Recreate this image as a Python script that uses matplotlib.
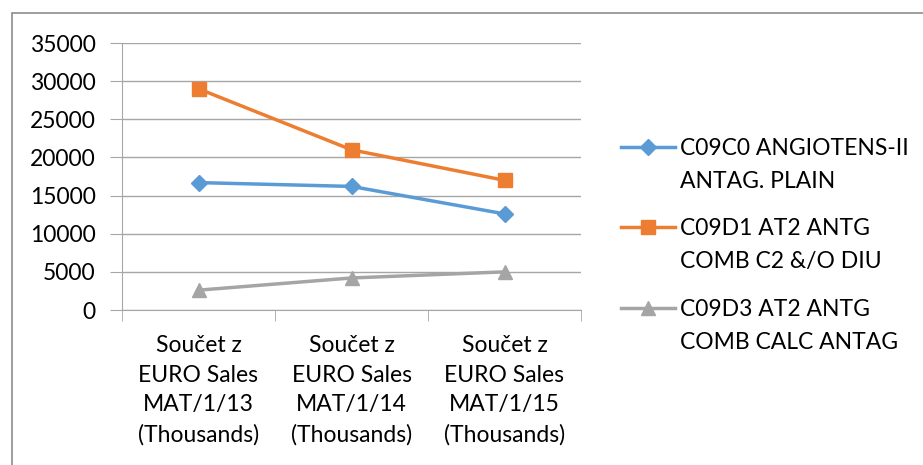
import matplotlib.pyplot as plt
from matplotlib.lines import Line2D
from matplotlib.patches import Rectangle

plt.rcParams['font.family'] = ['Lato', 'DejaVu Sans']

categories = [
    "Součet z\nEURO Sales\nMAT/1/13\n(Thousands)",
    "Součet z\nEURO Sales\nMAT/1/14\n(Thousands)",
    "Součet z\nEURO Sales\nMAT/1/15\n(Thousands)",
]
angiotens = [16700, 16200, 12600]
comb_diu = [29000, 21000, 17000]
comb_calc = [2600, 4200, 5000]

series_names = [
    "C09C0 ANGIOTENS-II\nANTAG. PLAIN",
    "C09D1 AT2 ANTG\nCOMB C2 &/O DIU",
    "C09D3 AT2 ANTG\nCOMB CALC ANTAG",
]
colors = ['#5B9BD5', '#ED7D31', '#A5A5A5']
markers = ['D', 's', '^']
msizes = [8, 10, 10]
fs = 16.5

W, H = 923, 465
fig = plt.figure(figsize=(W / 100, H / 100), dpi=100)
ax = fig.add_axes([122 / W, 155 / H, (581 - 122) / W, (422 - 155) / H])

x = range(len(categories))
for vals, c, m, ms in zip([angiotens, comb_diu, comb_calc], colors, markers, msizes):
    ax.plot(x, vals, color=c, lw=2.5, marker=m, markersize=ms, solid_capstyle='round')

grid_c = '#A6A6A6'
ax.set_xlim(-0.5, 2.5)
ax.set_ylim(0, 35000)
ax.set_yticks(range(0, 35001, 5000))
ax.yaxis.grid(True, color=grid_c, lw=1)
ax.set_axisbelow(True)
for s in ['top', 'right']:
    ax.spines[s].set_visible(False)
for s in ['left', 'bottom']:
    ax.spines[s].set_color(grid_c)
ax.tick_params(axis='y', length=9, color=grid_c, pad=10, labelsize=fs)

ax.set_xticks(list(x))
ax.set_xticklabels(categories, fontsize=fs, linespacing=1.5)
ax.set_xticks([-0.5, 0.5, 1.5, 2.5], minor=True)
ax.tick_params(axis='x', which='major', length=0, pad=18)
ax.tick_params(axis='x', which='minor', length=8, color=grid_c)

# legend, one entry per series with the handle beside the first text line
legend_y = [147, 227, 308]
for name, c, m, ms, ly in zip(series_names, colors, markers, msizes, legend_y):
    yf = 1 - ly / H
    fig.add_artist(Line2D([621 / W, 675 / W], [yf, yf], color=c, lw=2.5,
                          transform=fig.transFigure))
    fig.add_artist(Line2D([648 / W], [yf], color=c, marker=m, markersize=ms,
                          transform=fig.transFigure))
    fig.text(680 / W, yf + 9 / H, name, fontsize=fs, va='top', ha='left',
             linespacing=1.7)

# chart frame
fig.add_artist(Rectangle((12 / W, -0.1), 1.2, 1 - 13 / H + 0.1, fill=False,
                         edgecolor='#8C8C8C', lw=1.2, transform=fig.transFigure))

fig.savefig('out.png', dpi=100)
